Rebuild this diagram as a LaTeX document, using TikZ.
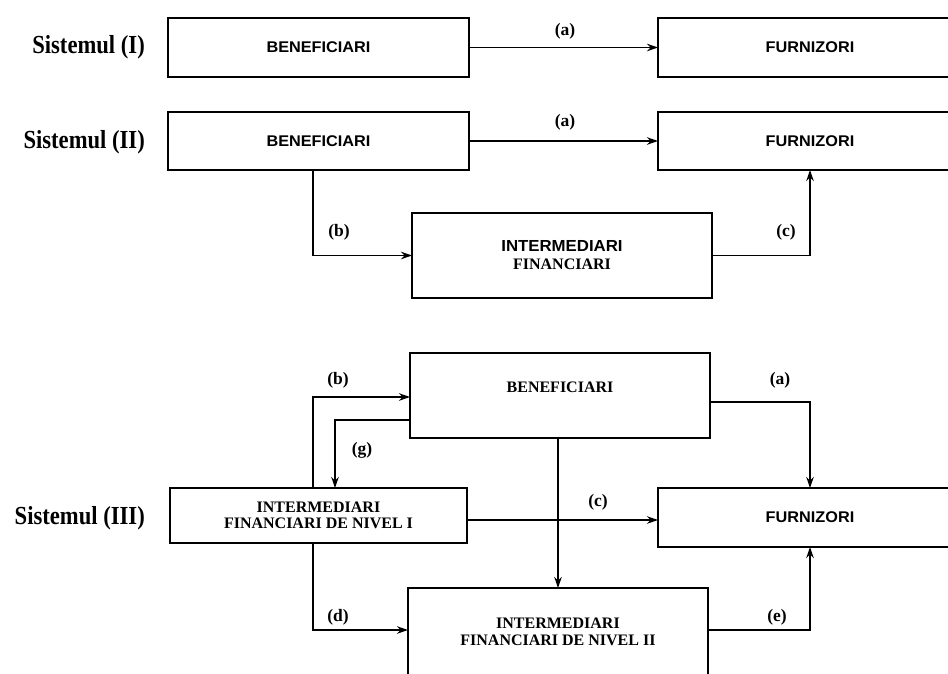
\documentclass[tikz,border=0pt]{standalone}
\usepackage{fontspec}
\setmainfont{Liberation Serif}
\newfontfamily\sysfont[FakeStretch=0.87]{Liberation Serif}
\newfontfamily\sansboxfont[FakeStretch=1.05]{Liberation Sans}
\usetikzlibrary{arrows.meta,calc}
\begin{document}
\begin{tikzpicture}[x=1pt,y=-1pt,
  box/.style={draw,line width=2.6pt,inner sep=0pt,outer sep=0pt},
  sanstxt/.style={font=\sansboxfont\bfseries\fontsize{15.5}{18}\selectfont},
  seriftxt/.style={font=\bfseries\fontsize{16}{16.5}\selectfont,align=center},
  sys/.style={font=\sysfont\bfseries\fontsize{26}{30}\selectfont,anchor=east,inner sep=0pt},
  lbl/.style={font=\bfseries\fontsize{17.5}{20}\selectfont,inner sep=0pt},
  arr/.style={line width=1.5pt,-{Stealth[length=11pt,width=7.5pt]}}]
\useasboundingbox (0,0) rectangle (948,673);
\clip (0,0) rectangle (948,673);
\coordinate (xb) at (313,0);
\coordinate (xg) at (335,0);

% System labels
\node[sys] (s1) at (145,47) {Sistemul (I)};
\node[sys] (s2) at (145,142) {Sistemul (II)};
\node[sys] (s3) at (145,518) {Sistemul (III)};

% Sistemul I
\node[box,sanstxt,minimum width=301pt,minimum height=59pt] (b1) at (318.5,47.5) {BENEFICIARI};
\node[box,sanstxt,minimum width=304pt,minimum height=59pt] (f1) at (810,47.5) {FURNIZORI};
\draw[arr] (b1.east) -- (f1.west);
\node[lbl] (la1) at (565,31) {(a)};

% Sistemul II
\node[box,sanstxt,minimum width=301pt,minimum height=58pt] (b2) at (318.5,141) {BENEFICIARI};
\node[box,sanstxt,minimum width=304pt,minimum height=58pt] (f2) at (810,141) {FURNIZORI};
\node[box,minimum width=300pt,minimum height=85pt,align=center,font=\fontsize{16}{18}\selectfont] (i2) at (562,255.5)
  {{\sansboxfont\bfseries INTERMEDIARI}\\{\bfseries FINANCIARI}};
\draw[arr] (b2.east) -- (f2.west);
\draw[arr] (xb |- b2.south) |- (i2.west);
\draw[arr] (i2.west -| i2.east) -| (f2.south);
\node[lbl] (la2) at (565,122) {(a)};
\node[lbl] (lb2) at (339,232) {(b)};
\node[lbl] (lc2) at (786,232) {(c)};

% Sistemul III
\node[box,minimum width=300pt,minimum height=85pt] (b3) at (560,395.5) {};
\node[seriftxt] (b3t) at (560,387) {BENEFICIARI};
\node[box,seriftxt,minimum width=297pt,minimum height=55pt] (n1) at (318.5,515.5) {INTERMEDIARI\\FINANCIARI DE NIVEL I};
\node[box,sanstxt,minimum width=304pt,minimum height=59pt] (f3) at (810,517.5) {FURNIZORI};
\node[box,minimum width=300pt,minimum height=102pt] (n2) at (558,639) {};
\node[seriftxt] (n2t) at (558,632) {INTERMEDIARI\\FINANCIARI DE NIVEL II};

\draw[arr] (xb |- n1.north) |- ([yshift=-1.5pt]b3.west);
\draw[arr] ([yshift=-24.5pt]b3.west) -| (xg |- n1.north);
\draw[arr] ([yshift=-6.5pt]b3.east) -| (f3.north);
\draw[arr] ([yshift=-4.5pt]n1.east) -- ([yshift=-4.5pt]n1.east -| f3.west);
\draw[arr] (n2.north |- b3.south) -- (n2.north);
\draw[arr] (xb |- n1.south) |- ([yshift=9pt]n2.west);
\draw[arr] ([yshift=9pt]n2.east) -| (f3.south);

\node[lbl] (lb3) at (338,380) {(b)};
\node[lbl] (lg3) at (362,450) {(g)};
\node[lbl] (la3) at (780,380) {(a)};
\node[lbl] (lc3) at (598,502) {(c)};
\node[lbl] (ld3) at (338,617) {(d)};
\node[lbl] (le3) at (777,617) {(e)};
\end{tikzpicture}
\end{document}
